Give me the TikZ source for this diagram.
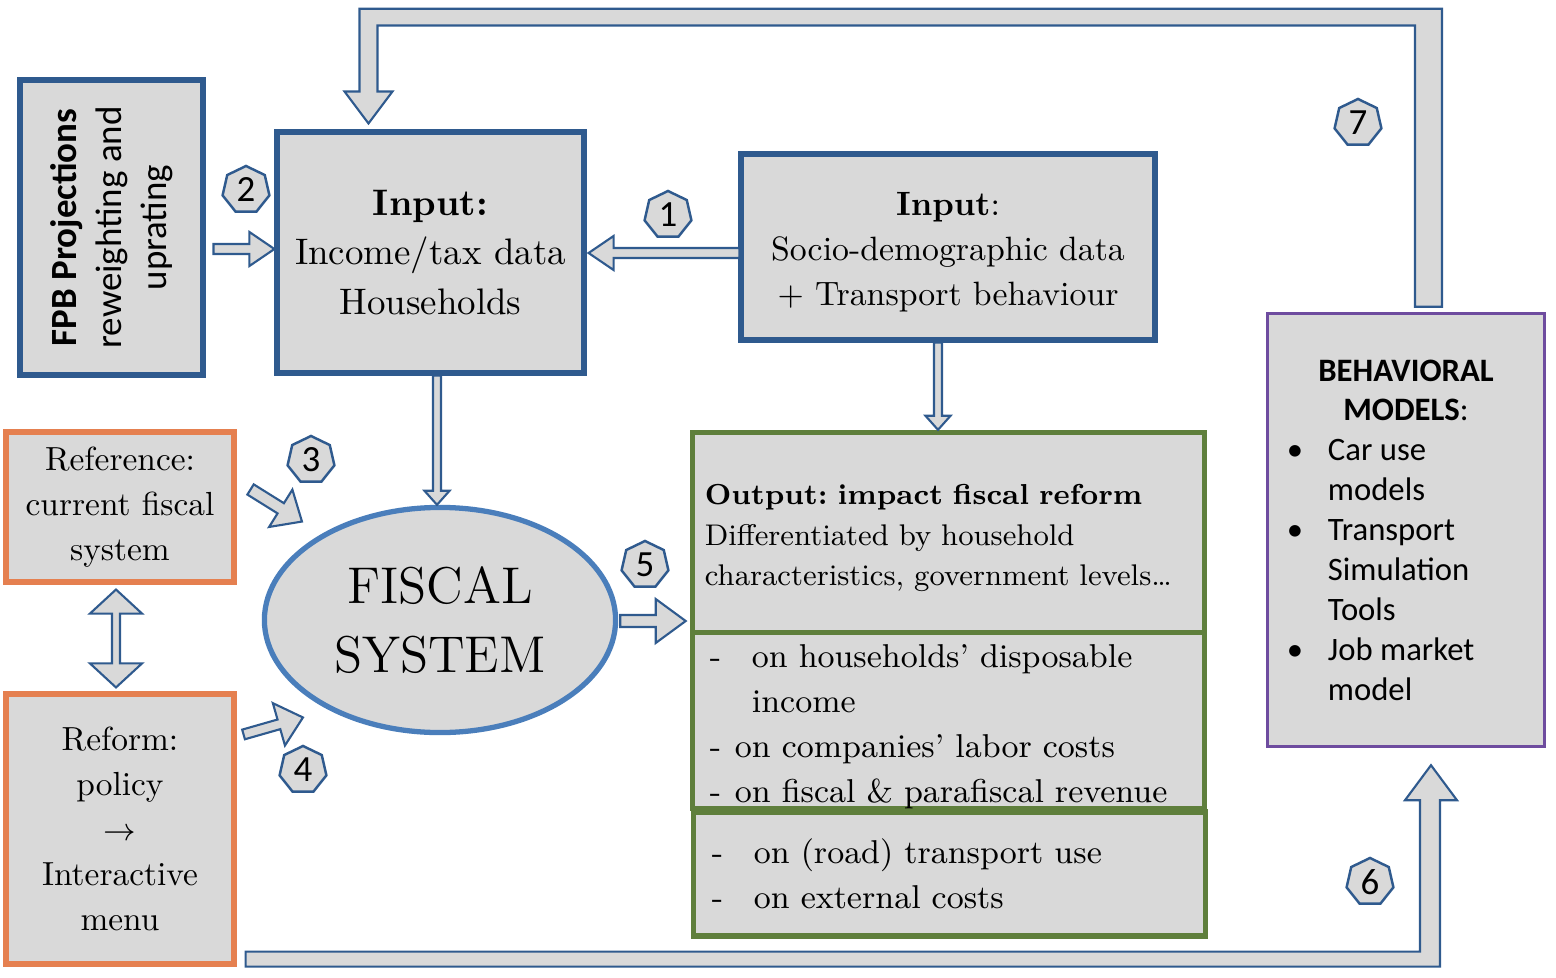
\documentclass[tikz,border=0pt]{standalone}
\usepackage{fontspec}
\newfontfamily\calib{Carlito}
\usepackage{tikz}
\usetikzlibrary{positioning, calc, shapes.geometric}
\definecolor{BoxGray}{HTML}{D9D9D9}
\definecolor{FrameBlue}{HTML}{2F5A8E}
\definecolor{EllBlue}{HTML}{4A7EBB}
\definecolor{RefOrange}{HTML}{E58050}
\definecolor{OutGreen}{HTML}{5F7F3C}
\definecolor{ModPurple}{HTML}{6E4C9F}

% block arrow: from, to, half shaft, half head, head length
\newcommand{\fatarrow}[5]{%
  \coordinate (faS) at (#1);
  \coordinate (faT) at (#2);
  \coordinate (faH) at ($(faT)!#5!(faS)$);
  \draw[fatarrow] ($(faS)!#3!90:(faT)$) -- ($(faH)!#3!-90:(faS)$) -- ($(faH)!#4!-90:(faS)$)
    -- (faT) -- ($(faH)!#4!90:(faS)$) -- ($(faH)!#3!90:(faS)$) -- ($(faS)!#3!-90:(faT)$) -- cycle;
}
% block arrow with a head at both ends
\newcommand{\fatdouble}[5]{%
  \coordinate (faS) at (#1);
  \coordinate (faT) at (#2);
  \coordinate (faH) at ($(faT)!#5!(faS)$);
  \coordinate (faG) at ($(faS)!#5!(faT)$);
  \draw[fatarrow] (faS) -- ($(faG)!#4!90:(faT)$) -- ($(faG)!#3!90:(faT)$) -- ($(faH)!#3!-90:(faS)$)
    -- ($(faH)!#4!-90:(faS)$) -- (faT) -- ($(faH)!#4!90:(faS)$) -- ($(faH)!#3!90:(faS)$)
    -- ($(faG)!#3!-90:(faT)$) -- ($(faG)!#4!-90:(faT)$) -- cycle;
}

\begin{document}
\begin{tikzpicture}[x=0.01cm, y=-0.01cm,
    panel/.style={draw, fill=BoxGray, line width=1.7pt, inner sep=0pt},
    bluebox/.style={panel, draw=FrameBlue},
    orangebox/.style={panel, draw=RefOrange, minimum width=2.27cm, align=center, font=\fontsize{9.5}{12.8}\selectfont},
    greenbox/.style={panel, draw=OutGreen, line width=1.5pt, align=left},
    fatarrow/.style={draw=FrameBlue, fill=BoxGray, line width=0.6pt, line join=miter},
    numtag/.style={regular polygon, regular polygon sides=7, draw=FrameBlue, fill=BoxGray, line width=0.7pt,
      minimum size=0.48cm, inner sep=0pt, font=\calib\fontsize{10.5}{12}\selectfont}]
\useasboundingbox (0,0) rectangle (1556,978);

% Inputs (fpb is turned, its south side faces right)
\node[bluebox, rotate=90, minimum width=2.94cm, minimum height=1.82cm, align=center,
  font=\calib\fontsize{10.5}{12.8}\selectfont] (fpb) at (111.5,227.5)
  {\textbf{FPB Projections}\\reweighting and\\uprating};
\node[bluebox, minimum width=3.06cm, minimum height=2.40cm, align=center,
  font=\fontsize{10.5}{14.2}\selectfont] (income) at (430.5,252.5)
  {\textbf{Input:}\\Income/tax data\\Households};
\node[bluebox, minimum width=4.13cm, minimum height=1.85cm, align=center,
  font=\fontsize{9.6}{12.8}\selectfont] (socio) at (948,247)
  {\rule{0pt}{9.3pt}\textbf{Input}:\\Socio-demographic data\\+ Transport behaviour};

% Reference and reform
\node[orangebox, minimum height=1.49cm] (ref) at (120,507) {Reference:\\current fiscal\\system};
\node[orangebox, minimum height=2.69cm] (reform) at (120,829) {Reform:\\policy\\$\rightarrow$\\Interactive\\menu};

% Fiscal system
\node[ellipse, draw=EllBlue, fill=BoxGray, line width=1.5pt, minimum width=3.51cm, minimum height=2.25cm,
  inner sep=0pt, align=center, font=\fontsize{14.7}{19.8}\selectfont] (fiscal) at (440,620) {FISCAL\\SYSTEM};

% Output sections
\node[greenbox, minimum width=5.12cm, minimum height=2.005cm, inner xsep=0.125cm, text width=4.87cm,
  font=\fontsize{8.5}{11.6}\selectfont] (outtop) at (948.5,532.75)
  {\rule{0pt}{8.8pt}{\fontsize{8.2}{11.6}\selectfont\bfseries Output:\ impact fiscal reform}\\Differentiated by household\\characteristics, government levels\dots};
\node[greenbox, minimum width=5.12cm, minimum height=1.75cm, inner xsep=0.175cm, text width=4.77cm,
  font=\fontsize{9.4}{12.8}\selectfont] (outmid) at (948.5,720.5)
  {\rule{0pt}{10pt}\makebox[0.42cm][l]{-}on households' disposable\\\makebox[0.42cm][l]{}income\\
   \makebox[0.25cm][l]{-}on companies' labor costs\\\makebox[0.25cm][l]{-}on fiscal \& parafiscal revenue};
\node[greenbox, minimum width=5.11cm, minimum height=1.24cm, inner xsep=0.18cm, text width=4.75cm,
  font=\fontsize{9.4}{12.8}\selectfont] (outbot) at (949.5,874)
  {\makebox[0.42cm][l]{-}on (road) transport use\\\makebox[0.42cm][l]{-}on external costs};

% Behavioral models
\node[panel, draw=ModPurple, line width=0.9pt, minimum width=2.77cm, minimum height=4.33cm, align=center,
  font=\calib\fontsize{9.3}{11.34}\selectfont] (behav) at (1406,530)
  {\textbf{BEHAVIORAL}\\\textbf{MODELS}:\\
   \makebox[2.38cm][l]{\makebox[0.41cm][l]{\textbullet}Car use}\\\makebox[2.38cm][l]{\hspace{0.41cm}models}\\
   \makebox[2.38cm][l]{\makebox[0.41cm][l]{\textbullet}Transport}\\\makebox[2.38cm][l]{\hspace{0.41cm}Simulation}\\
   \makebox[2.38cm][l]{\hspace{0.41cm}Tools}\\
   \makebox[2.38cm][l]{\makebox[0.41cm][l]{\textbullet}Job market}\\\makebox[2.38cm][l]{\hspace{0.41cm}model}};

% Straight arrows
\fatarrow{$(socio.west)+(1,6)$}{$(income.east)+(2,0.5)$}{0.05cm}{0.17cm}{0.25cm}
\fatarrow{$(fpb.south)+(8,21.5)$}{$(income.west)+(0,-3.5)$}{0.05cm}{0.17cm}{0.25cm}
\fatarrow{$(income.south)+(6.5,0)$}{$(fiscal.north)+(-3,0)$}{0.04cm}{0.125cm}{0.14cm}
\fatarrow{$(socio.south)+(-10,0)$}{$(outtop.north)+(-10.5,0)$}{0.04cm}{0.125cm}{0.14cm}
\fatarrow{$(fiscal.east)+(2,1)$}{$(outtop.west |- fiscal.east)+(-4,1)$}{0.06cm}{0.22cm}{0.30cm}
\fatarrow{$(ref.north east)+(14,60)$}{$(fiscal.north west)+(-12,-17)$}{0.06cm}{0.22cm}{0.25cm}
\fatarrow{$(reform.north east)+(7,43)$}{$(fiscal.south west)+(-11,16)$}{0.05cm}{0.22cm}{0.25cm}
\fatdouble{$(ref.south)+(-4,5)$}{$(reform.north)+(-4,-4)$}{0.04cm}{0.26cm}{0.24cm}

% Feedback arrows
\coordinate (b7) at ($(behav.north)+(0,-5)$);
\coordinate (t7) at ($(income.north)+(-62,-6)$);
\draw[fatarrow] ($(b7)+(9,0)$) |- ($(t7)+(9,-98)$) -- ($(t7)+(9,-32)$) -- ($(t7)+(24,-32)$) -- (t7)
  -- ($(t7)+(-24,-32)$) -- ($(t7)+(-9,-32)$) |- ($(b7)+(36,-298)$) -- ($(b7)+(36,0)$) -- cycle;
\coordinate (s6) at ($(reform.south east)+(9,0)$);
\coordinate (t6) at ($(behav.south)+(25,17)$);
\draw[fatarrow] ($(s6)+(0,-15)$) -| ($(t6)+(-11,35)$) -- ($(t6)+(-26,35)$) -- (t6) -- ($(t6)+(26,35)$)
  -- ($(t6)+(9,35)$) |- (s6) -- cycle;

% Step numbers
\node[numtag] (n1) at (668,215) {1};
\node[numtag] (n2) at (246,190) {2};
\node[numtag] (n3) at (311,460) {3};
\node[numtag] (n4) at (303,770) {4};
\node[numtag] (n5) at (645,565) {5};
\node[numtag] (n6) at (1370,882) {6};
\node[numtag] (n7) at (1358,123) {7};
\end{tikzpicture}
\end{document}
